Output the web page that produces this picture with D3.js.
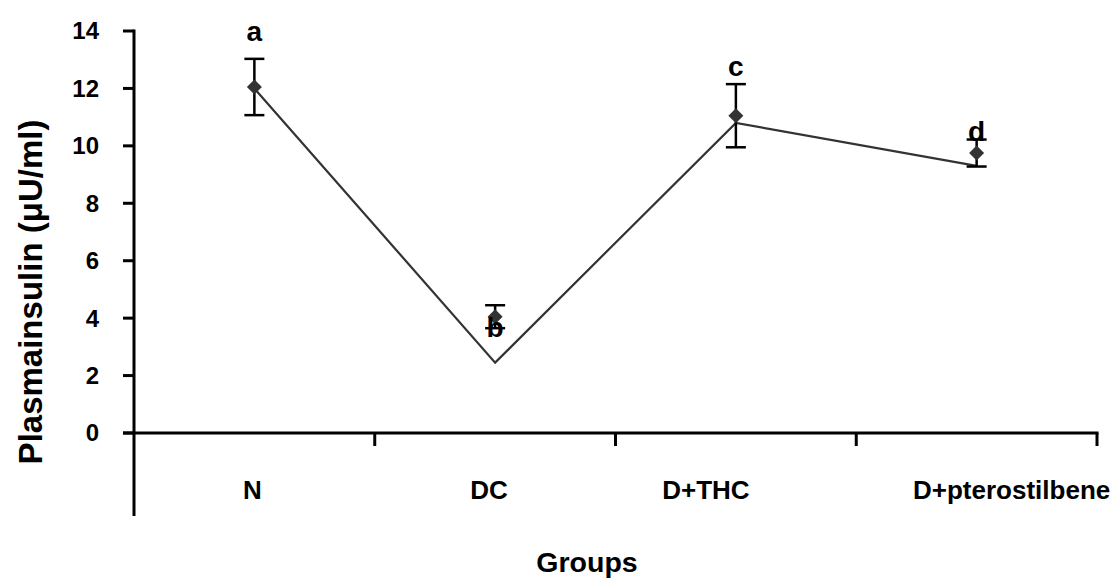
<!DOCTYPE html>
<html>
<head>
<meta charset="utf-8">
<script src="https://cdn.jsdelivr.net/npm/d3@7"></script>
<style>
  body { margin: 0; background: #fff; }
  svg { display: block; font-family: "Liberation Sans", Arial, sans-serif; font-weight: bold; }
</style>
</head>
<body>
<svg width="1115" height="579"></svg>
<script>
const groups = ["N", "DC", "D+THC", "D+pterostilbene"];
const meanValues = [12.05, 4.05, 11.05, 9.75];
const errValues = [0.98, 0.4, 1.1, 0.47];
const lineValues = [12.0, 2.45, 10.8, 9.3];
const sigLetters = ["a", "b", "c", "d"];
const letterValues = [13.64, 3.35, 12.44, 10.18];
const yTicks = [0, 2, 4, 6, 8, 10, 12, 14];

// label shifts copied from the original layout (px)
const labelNudge = [-2, -6, -30, 35];

const svg = d3.select("svg");

const x = d3.scaleBand().domain(groups).range([134, 1097]).paddingInner(0).paddingOuter(0);
const y = d3.scaleLinear().domain([0, 14]).range([433, 31]);
const cx = (g) => x(g) + x.bandwidth() / 2;

// y axis
const yAxisG = svg.append("g").attr("transform", "translate(134,0)");
yAxisG.append("line")
  .attr("x1", 0).attr("x2", 0)
  .attr("y1", y(14) - 1.5).attr("y2", 516)
  .attr("stroke", "#000").attr("stroke-width", 3);
yAxisG.selectAll(".yt")
  .data(yTicks)
  .join("line")
  .attr("x1", -11).attr("x2", 0)
  .attr("y1", (d) => y(d)).attr("y2", (d) => y(d))
  .attr("stroke", "#000").attr("stroke-width", 3);
yAxisG.selectAll("text")
  .data(yTicks)
  .join("text")
  .attr("x", -35)
  .attr("y", (d) => y(d))
  .attr("dy", "0.35em")
  .attr("text-anchor", "end")
  .attr("font-size", 24)
  .text((d) => d);

// x axis
const xAxisG = svg.append("g").attr("transform", `translate(0,${y(0)})`);
xAxisG.append("line")
  .attr("x1", 123).attr("x2", 1098.5)
  .attr("y1", 0).attr("y2", 0)
  .attr("stroke", "#000").attr("stroke-width", 3);
xAxisG.selectAll(".xt")
  .data(groups)
  .join("line")
  .attr("x1", (d) => x(d) + x.bandwidth())
  .attr("x2", (d) => x(d) + x.bandwidth())
  .attr("y1", 0).attr("y2", 13)
  .attr("stroke", "#000").attr("stroke-width", 3);
xAxisG.selectAll("text")
  .data(groups)
  .join("text")
  .attr("x", (d, i) => cx(d) + labelNudge[i])
  .attr("y", 66)
  .attr("text-anchor", "middle")
  .attr("font-size", 26)
  .text((d) => d);

// axis titles
svg.append("text")
  .attr("transform", "translate(42,292) rotate(-90)")
  .attr("text-anchor", "middle")
  .attr("font-size", 33)
  .text("Plasmainsulin (μU/ml)");
svg.append("text")
  .attr("x", 587).attr("y", 572)
  .attr("text-anchor", "middle")
  .attr("font-size", 28.5)
  .text("Groups");

// line series
const line = d3.line().x((d, i) => cx(groups[i])).y((d) => y(d));
svg.append("path")
  .datum(lineValues)
  .attr("d", line)
  .attr("fill", "none")
  .attr("stroke", "#333")
  .attr("stroke-width", 2.2);

// error bars
const errG = svg.append("g").attr("stroke", "#000").attr("stroke-width", 2.5);
groups.forEach((g, i) => {
  const top = y(meanValues[i] + errValues[i]),
    bot = y(meanValues[i] - errValues[i]);
  errG.append("line").attr("x1", cx(g)).attr("x2", cx(g)).attr("y1", top).attr("y2", bot);
  errG.append("line").attr("x1", cx(g) - 10).attr("x2", cx(g) + 10).attr("y1", top).attr("y2", top);
  errG.append("line").attr("x1", cx(g) - 10).attr("x2", cx(g) + 10).attr("y1", bot).attr("y2", bot);
});

// diamond markers
svg.selectAll(".pt")
  .data(meanValues)
  .join("path")
  .attr("transform", (d, i) => `translate(${cx(groups[i])},${y(d)}) rotate(45)`)
  .attr("d", d3.symbol(d3.symbolSquare, 112))
  .attr("fill", "#333");

// significance letters
svg.selectAll(".sig")
  .data(sigLetters)
  .join("text")
  .attr("x", (d, i) => cx(groups[i]))
  .attr("y", (d, i) => y(letterValues[i]))
  .attr("text-anchor", "middle")
  .attr("font-size", 28)
  .text((d) => d);
</script>
</body>
</html>
